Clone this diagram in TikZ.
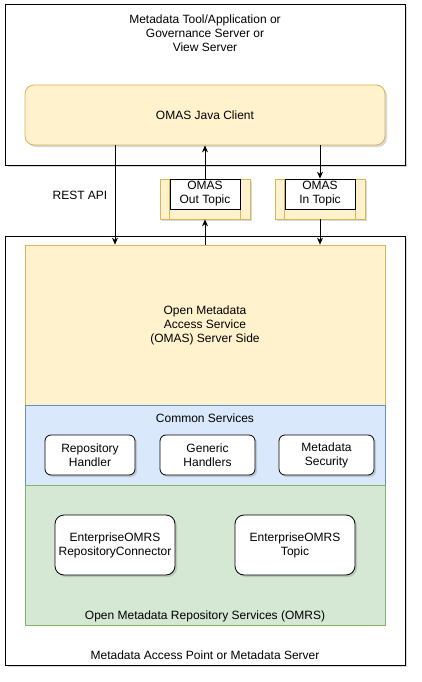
\documentclass[tikz,border=0pt]{standalone}
\usepackage{fontspec}
\setmainfont{Liberation Sans}
\usepackage{xcolor}
\usetikzlibrary{arrows.meta}
\usetikzlibrary{positioning,shapes,shadows}
\definecolor{omasfill}{HTML}{FFF2CC}
\definecolor{omasline}{HTML}{D6B656}
\definecolor{commonfill}{HTML}{DAE8FC}
\definecolor{commonline}{HTML}{6C8EBF}
\definecolor{omrsfill}{HTML}{D5E8D4}
\definecolor{omrsline}{HTML}{82B366}
\tikzset{
  shade/.style={drop shadow={shadow xshift=2pt,shadow yshift=-2pt,opacity=0.25,fill=black!60}},
  frame/.style={draw=black,fill=white,line width=1pt,inner sep=0pt,shade},
  region/.style={draw,line width=0.8pt,inner sep=0pt,minimum width=360pt},
  part/.style={draw=black,fill=white,rounded corners=6pt,line width=0.8pt,align=center,shade},
  lbl/.style={align=center,inner sep=0pt},
  arr/.style={-{Stealth[length=7pt,width=6pt]},line width=0.8pt}
}
\begin{document}
\begin{tikzpicture}[x=1pt,y=-1pt,font=\fontsize{12}{14}\selectfont]
      \useasboundingbox (0,0) rectangle (422,682);
      \node[frame,minimum width=399.5pt,minimum height=160pt] (tool) at (205.25,85) {};
      \node[lbl] (tooltitle) at (205,33) {Metadata Tool/Application or\\Governance Server or\\View Server};
      \node[part,fill=omasfill,draw=omasline,rounded corners=9pt,minimum width=360pt,minimum height=60pt] (javaclient) at (205,115) {OMAS Java Client};
      \node[frame,minimum width=399.5pt,minimum height=429pt] (server) at (205.25,450.5) {};
      \node[region,fill=omasfill,draw=omasline,minimum height=160pt] (omasserver) at (205,325) {};
      \node[lbl] (omaslabel) at (205,325) {Open Metadata\\Access Service\\(OMAS) Server Side};
      \node[region,fill=commonfill,draw=commonline,minimum height=80pt] (common) at (205,445) {};
      \node[lbl] (commonlabel) at (205,418) {Common Services};
      \node[region,fill=omrsfill,draw=omrsline,minimum height=140pt] (omrs) at (205,555) {};
      \node[lbl] (omrslabel) at (205,616) {Open Metadata Repository Services (OMRS)};
      \node[lbl] (serverlabel) at (205,655) {Metadata Access Point or Metadata Server};
      \node[part,minimum width=90pt,minimum height=40pt] (repohandler) at (90,455) {Repository\\Handler};
      \node[part,minimum width=95pt,minimum height=40pt] (generic) at (207.5,455) {Generic\\Handlers};
      \node[part,minimum width=95pt,minimum height=40pt] (security) at (326.5,455) {Metadata\\Security};
      \node[part,rounded corners=9pt,minimum width=120pt,minimum height=60pt] (connector) at (115,545) {EnterpriseOMRS\\RepositoryConnector};
      \node[part,rounded corners=9pt,minimum width=120pt,minimum height=60pt] (omrstopic) at (295,545) {EnterpriseOMRS\\Topic};
      \node[draw=omasline,fill=omasfill,line width=0.8pt,minimum width=90pt,minimum height=40pt,shade] (outtopic) at (205,199) {};
      \draw[omasline,line width=0.8pt] ([xshift=10pt]outtopic.north west) -- ([xshift=10pt]outtopic.south west);
      \draw[omasline,line width=0.8pt] ([xshift=-10pt]outtopic.north east) -- ([xshift=-10pt]outtopic.south east);
      \node[draw=black,fill=white,line width=0.8pt,minimum width=70pt,minimum height=30pt,lbl] (outtopicname) at (205,194) {OMAS\\Out Topic};
      \node[draw=omasline,fill=omasfill,line width=0.8pt,minimum width=90pt,minimum height=40pt,shade] (intopic) at (320,199) {};
      \draw[omasline,line width=0.8pt] ([xshift=10pt]intopic.north west) -- ([xshift=10pt]intopic.south west);
      \draw[omasline,line width=0.8pt] ([xshift=-10pt]intopic.north east) -- ([xshift=-10pt]intopic.south east);
      \node[draw=black,fill=white,line width=0.8pt,minimum width=70pt,minimum height=30pt,lbl] (intopicname) at (320,194) {OMAS\\In Topic};
      \node[lbl] (restlabel) at (80,195) {REST API};
      \coordinate (rest) at (115,0);
      \draw[arr] (javaclient.south -| rest) -- (omasserver.north -| rest);
      \draw[arr] (outtopic.north) -- (javaclient.south -| outtopic.north);
      \draw[arr] (omasserver.north -| outtopic.south) -- (outtopic.south);
      \draw[arr] (javaclient.south -| intopic.north) -- (intopic.north);
      \draw[arr] (intopic.south) -- (omasserver.north -| intopic.south);
\end{tikzpicture}
\end{document}
